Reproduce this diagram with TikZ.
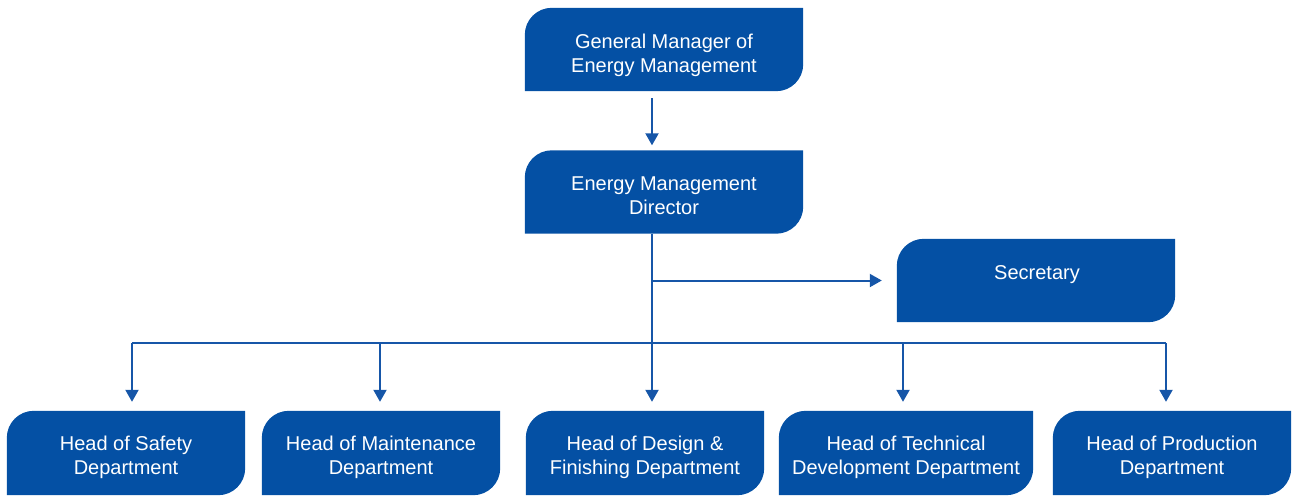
\documentclass[tikz,border=0pt]{standalone}
\usepackage{fontspec}
\setmainfont{Liberation Sans}
\usetikzlibrary{arrows.meta,backgrounds}
\definecolor{boxblue}{RGB}{4,80,164}
\definecolor{lineblue}{RGB}{22,86,168}
\tikzset{
  orgbox/.style={rectangle, inner sep=0pt, minimum height=83pt, minimum width=278pt},
  orgtxt/.style={text=white, align=center, font=\fontsize{20}{24}\selectfont, inner sep=0pt},
  conn/.style={draw=lineblue, line width=2pt},
  arr/.style={conn, -{Triangle[width=13pt,length=12pt]}},
}
\newcommand{\shapefill}[1]{%
  \fill[boxblue] (#1.south west) -- ([yshift=-27pt]#1.north west)
    arc[start angle=180,end angle=90,radius=27pt] -- (#1.north east)
    -- ([yshift=27pt]#1.south east)
    arc[start angle=0,end angle=-90,radius=27pt] -- cycle;}
\begin{document}
\begin{tikzpicture}[x=1pt,y=1pt]
\useasboundingbox (0,0) rectangle (1292,-496);
% boxes
\node[orgbox] (gm)  at (664,-49.5) {};
\node[orgbox] (dir) at (664,-192) {};
\node[orgbox] (sec) at (1036,-280.5) {};
\node[orgbox, minimum width=238pt, minimum height=84pt] (saf) at (126,-453) {};
\node[orgbox, minimum width=238pt, minimum height=84pt] (mai) at (381,-453) {};
\node[orgbox, minimum width=238pt, minimum height=84pt] (des) at (645,-453) {};
\node[orgbox, minimum width=254pt, minimum height=84pt] (tec) at (906,-453) {};
\node[orgbox, minimum width=238pt, minimum height=84pt] (pro) at (1172,-453) {};
\begin{scope}[on background layer]
\foreach \n in {gm,dir,sec,saf,mai,des,tec,pro}{\shapefill{\n}}
\end{scope}
% texts
\node[orgtxt] (gm-t)  at ([yshift=-6pt]gm.center) {General Manager of\\Energy Management};
\node[orgtxt] (dir-t) at ([yshift=-4pt]dir.center) {Energy Management\\Director};
\node[orgtxt, anchor=base] (sec-t) at (1037,-279) {Secretary};
\node[orgtxt] (saf-t) at ([yshift=-4pt]saf.center) {Head of Safety\\Department};
\node[orgtxt] (mai-t) at ([yshift=-4pt]mai.center) {Head of Maintenance\\Department};
\node[orgtxt] (des-t) at ([yshift=-4pt]des.center) {Head of Design \&\\Finishing Department};
\node[orgtxt] (tec-t) at ([yshift=-4pt]tec.center) {Head of Technical\\Development Department};
\node[orgtxt] (pro-t) at ([yshift=-4pt]pro.center) {Head of Production\\Department};
% connectors
\coordinate (gmo) at ([xshift=-12pt]gm.south);
\coordinate (diro) at ([xshift=-12pt]dir.south);
\coordinate (bus) at (652,-343);
\draw[arr, shorten <=7pt, shorten >=5pt] (gmo) -- (gmo |- dir.north);
\draw[conn] (diro) -- (bus);
\draw[arr, shorten >=15pt] (diro |- sec.west) -- (sec.west);
\coordinate (d1) at ([xshift=6pt]saf.north);
\coordinate (d2) at ([xshift=-1pt]mai.north);
\coordinate (d3) at ([xshift=7pt]des.north);
\coordinate (d4) at ([xshift=-3pt]tec.north);
\coordinate (d5) at ([xshift=-6pt]pro.north);
\draw[conn] (d1 |- bus) -- (d5 |- bus);
\foreach \d in {d1,d2,d3,d4,d5}{\draw[arr, shorten >=9pt] (\d |- bus) -- (\d);}
\end{tikzpicture}
\end{document}
